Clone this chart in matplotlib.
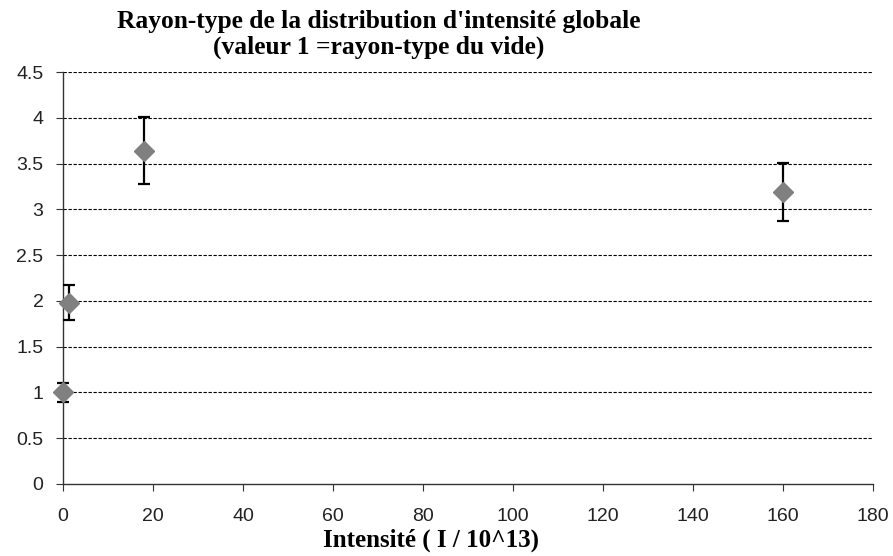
import matplotlib

matplotlib.use("Agg")
import matplotlib.pyplot as plt

# values
intensite = [0, 1.4, 18, 160]
rayon = [1.0, 1.98, 3.64, 3.19]
erreur = [0.1, 0.19, 0.365, 0.315]

x_ticks = [0, 20, 40, 60, 80, 100, 120, 140, 160, 180]
y_ticks = [0, 0.5, 1, 1.5, 2, 2.5, 3, 3.5, 4, 4.5]
y_labels = ["0", "0.5", "1", "1.5", "2", "2.5", "3", "3.5", "4", "4.5"]


def main():
    fig = plt.figure(figsize=(8.93, 5.56), dpi=100)
    ax = fig.add_axes([0.0705, 0.1295, 0.907, 0.741])

    ax.errorbar(intensite, rayon, yerr=erreur, fmt="D", color="#808080",
                markersize=10, ecolor="black", elinewidth=1.6, capsize=4.5,
                capthick=1.6, zorder=3, clip_on=False)

    ax.set_xlim(0, 180)
    ax.set_ylim(0, 4.5)
    ax.set_xticks(x_ticks)
    ax.set_yticks(y_ticks)
    ax.set_yticklabels(y_labels)

    # dashed horizontal grid
    for y in y_ticks[1:]:
        ax.axhline(y, color="black", linestyle=(0, (3, 1.5)), linewidth=0.8, zorder=1)

    for side in ["top", "right"]:
        ax.spines[side].set_visible(False)
    for side in ["left", "bottom"]:
        ax.spines[side].set_color("#333333")
        ax.spines[side].set_linewidth(1.0)

    ax.tick_params(direction="out", length=5, color="#333333", labelsize=14,
                   labelcolor="#222222")
    ax.tick_params(axis="y", pad=9)
    ax.tick_params(axis="x", pad=12)
    for lab in ax.get_xticklabels() + ax.get_yticklabels():
        lab.set_fontfamily("Liberation Sans")

    fig.text(0.424, 0.962, "Rayon-type de la distribution d'intensité globale",
             ha="center", va="center", fontsize=18.4, fontweight="bold",
             family="Liberation Serif")
    fig.text(0.424, 0.915, "(valeur 1 =rayon-type du vide)",
             ha="center", va="center", fontsize=18.4, fontweight="bold",
             family="Liberation Serif")
    fig.text(0.483, 0.028, "Intensité ( I / 10^13)", ha="center", va="center",
             fontsize=18, fontweight="bold", family="Liberation Serif")

    fig.savefig("out.png", dpi=100)
    plt.close(fig)


if __name__ == "__main__":
    main()
